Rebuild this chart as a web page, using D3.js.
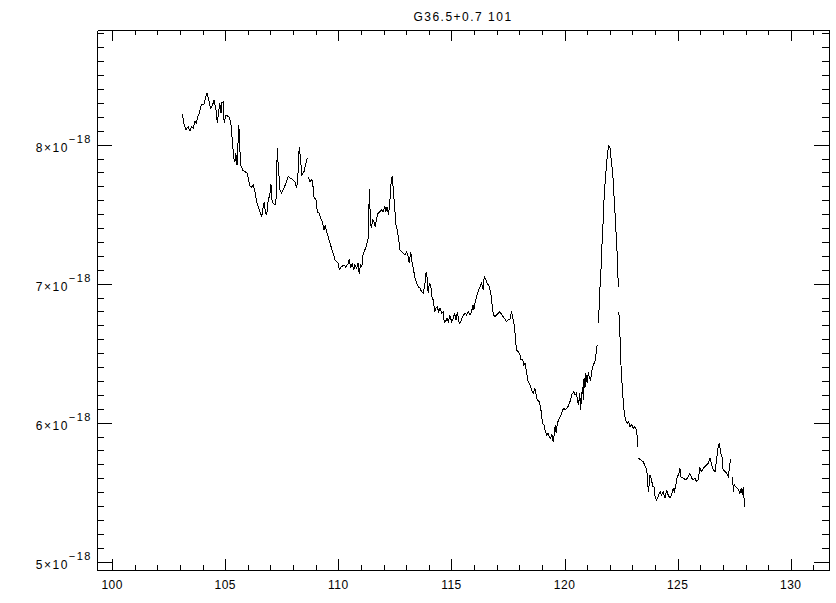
<!DOCTYPE html>
<html lang="en">
<head>
  <meta charset="UTF-8">
  <title>G36.5+0.7 101</title>
  <script src="https://d3js.org/d3.v7.min.js"></script>
  <style>
    body {
      margin: 0;
      padding: 0;
      background: #fff;
    }
    #chart {
      width: 836px;
      height: 603px;
    }
    text {
      font-family: "Liberation Sans", Arial, sans-serif;
      fill: #000;
    }
  </style>
</head>
<body>
  <div id="chart"></div>
<script>
  // spectrum (flux in units of 1e-18, null = gap in the data)
  const title = 'G36.5+0.7 101'
  const freq = [
    103.10,103.17,103.26,103.36,103.44,103.51,103.58,103.66,103.73,103.78,
    103.85,103.91,103.96,104.06,104.13,104.19,104.26,104.35,104.44,104.51,
    104.59,104.65,104.71,104.76,104.81,104.85,104.91,104.95,105.02,105.09,
    105.16,105.24,105.28,105.33,105.37,105.43,105.47,105.52,105.57,105.60,
    105.64,105.68,105.74,105.79,105.87,105.97,106.03,106.09,106.17,106.24,
    106.31,106.39,106.46,106.53,106.61,106.68,106.72,106.77,106.83,106.90,
    106.97,107.02,107.06,107.12,107.20,107.25,107.30,107.34,107.42,107.49,
    107.59,107.71,107.78,107.89,108.00,108.08,108.16,108.21,108.27,108.33,
    108.39,108.48,108.55,108.62,108.645,
    108.67,108.74,108.82,108.86,108.92,109.01,109.07,109.15,109.22,109.30,
    109.36,109.42,109.48,109.55,109.63,109.70,109.77,109.85,109.92,109.99,
    110.04,110.14,110.25,110.33,110.44,110.48,110.54,110.61,110.68,110.73,
    110.81,110.87,110.92,110.98,111.04,111.10,111.17,111.25,111.32,111.37,
    111.41,111.45,111.52,111.57,111.63,111.69,111.75,111.84,111.91,111.98,
    112.06,112.10,112.16,112.22,112.28,112.34,112.38,112.43,112.49,112.55,
    112.60,112.66,112.72,112.80,112.87,112.94,113.02,113.08,113.13,113.20,
    113.24,113.31,113.39,113.46,113.53,113.61,113.68,113.75,113.83,113.88,
    113.93,113.97,114.02,114.08,114.14,114.19,114.26,114.31,114.37,114.43,
    114.49,114.57,114.64,114.68,114.74,114.80,114.86,114.93,115.01,115.08,
    115.14,115.20,115.26,115.34,115.41,115.49,115.60,115.67,115.74,115.82,
    115.89,115.95,115.99,116.04,116.11,116.18,116.26,116.33,116.40,116.45,
    116.52,116.58,116.67,116.73,116.79,116.85,116.92,117.00,117.07,117.14,
    117.23,117.36,117.44,117.51,117.59,117.65,117.70,117.74,117.78,117.84,
    117.88,117.95,118.03,118.07,118.15,118.20,118.25,118.29,118.35,118.39,
    118.47,118.54,118.62,118.69,118.73,118.79,118.88,118.94,118.99,119.03,
    119.09,119.15,119.21,119.27,119.32,119.38,119.44,119.50,119.54,119.59,
    119.63,119.68,119.74,119.80,119.85,119.91,119.97,120.03,120.09,120.15,
    120.21,120.27,120.31,120.36,120.41,120.47,120.53,120.58,120.62,120.67,
    120.71,120.75,120.80,120.83,120.86,120.90,120.94,121.00,121.05,121.09,
    121.15,121.21,121.27,121.34,121.42,121.44,121.465,
    121.49,121.53,121.56,121.61,121.65,121.71,121.75,121.80,121.86,121.90,
    121.95,122.01,122.06,122.13,122.18,122.24,122.30,122.35,122.37,122.385,
    122.40,122.45,122.49,122.54,122.59,122.64,122.70,122.77,122.83,122.89,
    122.97,123.04,123.11,123.18,123.21,123.24,123.255,
    123.27,123.36,123.48,123.60,123.66,123.70,123.74,123.77,123.85,123.89,
    123.95,124.00,124.07,124.14,124.22,124.29,124.36,124.44,124.51,124.58,
    124.66,124.73,124.80,124.85,124.92,124.98,125.04,125.10,125.15,125.25,
    125.37,125.47,125.54,125.62,125.69,125.76,125.84,125.91,125.98,126.06,
    126.13,126.21,126.28,126.35,126.43,126.47,126.52,126.57,126.65,126.72,
    126.79,126.84,126.90,126.96,127.01,127.09,127.17,127.24,127.31,127.36,127.395,
    127.43,127.46,127.50,127.56,127.63,127.70,127.75,127.81,127.86,127.90,127.96
  ]
  const flux = [
    8.221,8.154,8.106,8.130,8.099,8.130,8.118,8.166,8.154,8.201,
    8.226,8.273,8.286,8.293,8.341,8.370,8.334,8.262,8.286,8.322,
    8.250,8.158,8.237,8.298,8.226,8.302,8.309,8.154,8.207,8.207,
    8.201,8.166,8.094,7.998,7.902,7.878,7.938,7.854,8.034,8.142,
    7.986,7.854,7.830,7.813,7.806,7.794,7.746,7.703,7.694,7.710,
    7.662,7.590,7.554,7.518,7.482,7.554,7.590,7.518,7.494,7.602,
    7.638,7.717,7.602,7.578,7.566,7.614,7.974,7.854,7.674,7.650,
    7.686,7.734,7.770,7.758,7.746,7.734,7.686,7.770,7.986,7.890,
    7.782,7.806,7.854,7.902,null,
    7.770,7.734,7.746,7.734,7.626,7.602,7.518,7.506,7.471,7.446,
    7.386,7.422,7.374,7.338,7.291,7.255,7.219,7.171,7.158,7.147,
    7.104,7.122,7.135,7.118,7.147,7.176,7.111,7.147,7.099,7.135,
    7.111,7.147,7.070,7.135,7.122,7.219,7.242,7.278,7.327,7.679,
    7.482,7.399,7.458,7.446,7.410,7.471,7.506,7.518,7.530,7.518,
    7.554,7.518,7.554,7.494,7.602,7.746,7.775,7.674,7.542,7.422,
    7.386,7.327,7.242,7.230,7.219,7.207,7.230,7.199,7.147,7.230,
    7.171,7.111,7.039,7.003,6.978,6.967,6.942,6.931,7.003,7.086,
    7.039,6.931,7.003,6.991,6.907,6.883,6.799,6.823,6.835,6.799,
    6.823,6.787,6.799,6.719,6.727,6.751,6.727,6.768,6.727,6.751,
    6.787,6.739,6.799,6.715,6.727,6.763,6.787,6.775,6.799,6.775,
    6.799,6.847,6.811,6.859,6.907,6.942,6.978,7.003,6.955,7.055,
    7.027,7.003,6.978,6.942,6.859,6.775,6.763,6.775,6.787,6.799,
    6.775,6.746,6.727,6.739,6.746,6.799,6.763,6.727,6.703,6.583,
    6.523,6.511,6.487,6.451,6.451,6.415,6.427,6.391,6.331,6.295,
    6.271,6.235,6.212,6.248,6.212,6.163,6.151,6.115,6.043,5.996,
    5.984,5.935,5.912,5.924,5.899,5.888,5.912,5.863,5.912,5.984,
    5.924,5.996,6.019,6.043,6.055,6.091,6.104,6.091,6.104,6.115,
    6.140,6.163,6.199,6.212,6.223,6.199,6.212,6.151,6.127,6.212,
    6.091,6.187,6.259,6.163,6.319,6.248,6.355,6.283,6.367,6.331,
    6.307,6.379,6.415,6.439,6.523,6.559,null,
    6.715,6.835,6.955,7.099,7.266,7.458,7.626,7.746,7.866,7.938,
    7.991,7.974,7.890,7.794,7.650,7.482,7.291,7.147,6.978,null,
    6.799,6.619,6.427,6.283,6.163,6.068,6.019,5.996,6.007,5.971,
    5.984,5.960,5.971,5.948,5.899,5.827,null,
    5.744,5.732,5.719,5.672,5.624,5.504,5.552,5.624,5.588,5.540,
    5.540,5.468,5.444,5.468,5.504,5.480,5.504,5.456,5.516,5.480,
    5.456,5.480,5.528,5.504,5.552,5.612,5.624,5.672,5.607,5.600,
    5.588,5.612,5.636,5.600,5.588,5.600,5.576,5.588,5.672,5.648,
    5.672,5.684,5.696,5.708,5.744,5.719,5.684,5.660,5.648,5.732,
    5.827,5.856,5.780,5.755,5.660,5.648,5.636,5.612,5.708,5.737,null,
    5.612,5.504,5.552,5.540,5.528,5.516,5.492,5.528,5.480,5.540,5.396
  ]
  const xMajor = [100, 105, 110, 115, 120, 125, 130]
  const xMinor = d3.range(100, 132, 1)
  const yMajor = [5, 6, 7, 8]
  const yMinor = d3.range(50, 89, 1).map(d => d / 10)
  const yExponent = '\u221218'

  const width = 836
  const height = 603
  const box = { left: 97, right: 829, top: 30, bottom: 570 }

  const svg = d3.select('#chart')
    .append('svg')
    .attr('width', width)
    .attr('height', height)

  const x = d3.scaleLinear().domain([99.33, 131.69]).range([box.left, box.right])
  const y = d3.scaleLinear().domain([4.94, 8.825]).range([box.bottom, box.top])

  const xLen = 0.02 * (box.bottom - box.top)
  const yLen = 0.02 * (box.right - box.left)

  // axes: ticks point inward like the original plot box
  function axisGroup(axis, tx, ty) {
    const g = svg.append('g')
      .attr('transform', `translate(${tx},${ty})`)
      .call(axis)
    g.selectAll('path, line')
      .attr('stroke', '#000')
      .attr('stroke-width', 1)
      .attr('shape-rendering', 'crispEdges')
    g.selectAll('text').remove()
    return g
  }

  axisGroup(d3.axisBottom(x).tickValues(xMinor).tickSize(-xLen / 2).tickSizeOuter(0), 0, box.bottom)
  axisGroup(d3.axisTop(x).tickValues(xMinor).tickSize(-xLen / 2).tickSizeOuter(0), 0, box.top)
  axisGroup(d3.axisBottom(x).tickValues(xMajor).tickSize(-xLen).tickSizeOuter(0), 0, box.bottom)
  axisGroup(d3.axisTop(x).tickValues(xMajor).tickSize(-xLen).tickSizeOuter(0), 0, box.top)
  axisGroup(d3.axisLeft(y).tickValues(yMinor).tickSize(-yLen / 2).tickSizeOuter(0), box.left, 0)
  axisGroup(d3.axisRight(y).tickValues(yMinor).tickSize(-yLen / 2).tickSizeOuter(0), box.right, 0)
  axisGroup(d3.axisLeft(y).tickValues(yMajor).tickSize(-yLen).tickSizeOuter(0), box.left, 0)
  axisGroup(d3.axisRight(y).tickValues(yMajor).tickSize(-yLen).tickSizeOuter(0), box.right, 0)

  // tick labels
  svg.append('g')
    .selectAll('text')
    .data(xMajor)
    .join('text')
    .attr('x', d => x(d))
    .attr('y', box.bottom + 19)
    .attr('text-anchor', 'middle')
    .attr('font-size', 12)
    .attr('letter-spacing', 0.5)
    .text(d => d)

  const yLabels = svg.append('g')
    .selectAll('text')
    .data(yMajor)
    .join('text')
    .attr('x', box.left - 5)
    .attr('y', d => y(d) + 7)
    .attr('text-anchor', 'end')
    .attr('font-size', 12)
  yLabels.append('tspan')
    .attr('letter-spacing', 1.5)
    .text(d => d + '\u00d710')
  yLabels.append('tspan')
    .attr('dy', -9)
    .attr('font-size', 11)
    .attr('letter-spacing', 1.5)
    .text(yExponent)

  svg.append('text')
    .attr('x', (box.left + box.right) / 2)
    .attr('y', 21)
    .attr('text-anchor', 'middle')
    .attr('font-size', 12)
    .attr('letter-spacing', 1.5)
    .text(title)

  // spectrum
  const points = freq.map((f, i) => [f, flux[i]])
  const line = d3.line()
    .defined(d => d[1] != null)
    .x(d => x(d[0]))
    .y(d => y(d[1]))

  svg.append('path')
    .datum(points)
    .attr('d', line)
    .attr('fill', 'none')
    .attr('stroke', '#000')
    .attr('stroke-width', 1)
    .attr('shape-rendering', 'crispEdges')
</script>
</body>
</html>
